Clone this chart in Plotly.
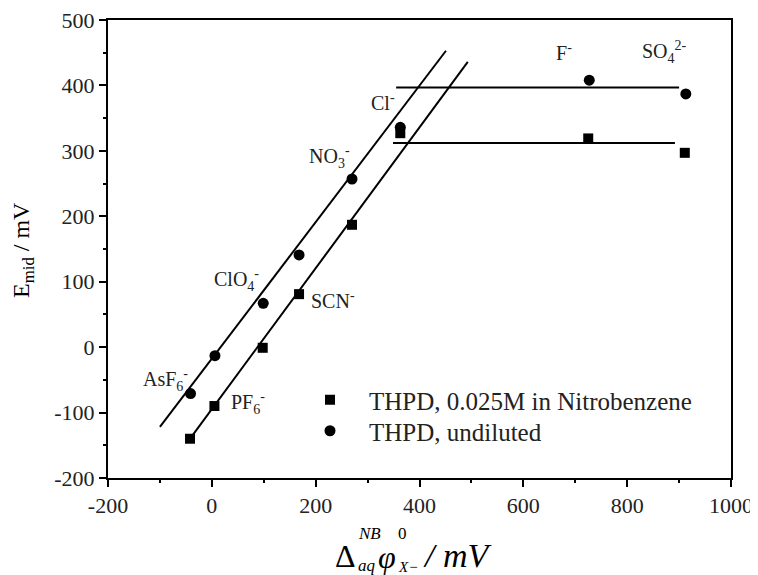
import plotly.graph_objects as go

# ---- data ----
nb_x = [-42, 5, 98, 168, 270, 363, 725, 911]
nb_y = [-140, -90, -1, 81, 187, 327, 319, 297]
und_x = [-41, 6, 99, 168, 270, 363, 727, 913]
und_y = [-71, -13, 67, 141, 257, 336, 408, 387]

fit_und_x = [-100, 451]
fit_und_y = [-122, 453]
fit_nb_x = [-44, 493]
fit_nb_y = [-142, 436]
plat_und_x = [355, 900]
plat_und_y = [397, 397]
plat_nb_x = [349, 892]
plat_nb_y = [312, 312]

ion_labels = ["AsF<sub>6</sub><sup>-</sup>", "PF<sub>6</sub><sup>-</sup>", "ClO<sub>4</sub><sup>-</sup>",
              "SCN<sup>-</sup>", "NO<sub>3</sub><sup>-</sup>", "Cl<sup>-</sup>", "F<sup>-</sup>",
              "SO<sub>4</sub><sup>2-</sup>"]
ion_x = [-136, 34, 1, 187, 184, 303, 659, 824]
ion_y = [-50, -86, 102, 72, 290, 375, 451, 451]

x_ticks = [-200, 0, 200, 400, 600, 800, 1000]
y_ticks = [-200, -100, 0, 100, 200, 300, 400, 500]
x_range = [-200, 1000]
y_range = [-200, 500]

legend_names = ["THPD, 0.025M in Nitrobenzene", "THPD, undiluted"]

FONT = "Liberation Serif"
OFF = 8  # page body margin offset
W, H = 758 - OFF, 575 - OFF
L, R, T, B = 108 - OFF, 27, 20 - OFF, 97
PW, PH = W - L - R, H - T - B

fig = go.Figure()
line_style = dict(color="black", width=2)
# sloped fit lines on overlay axes carrying the minor ticks
for xs, ys in [(fit_und_x, fit_und_y), (fit_nb_x, fit_nb_y)]:
    fig.add_trace(go.Scatter(x=xs, y=ys, mode="lines", line=line_style,
                             xaxis="x2", yaxis="y2",
                             showlegend=False, hoverinfo="skip"))
# plateau lines on overlay axes that draw the top/right frame
for xs, ys in [(plat_und_x, plat_und_y), (plat_nb_x, plat_nb_y)]:
    fig.add_trace(go.Scatter(x=xs, y=ys, mode="lines", line=line_style,
                             xaxis="x3", yaxis="y3",
                             showlegend=False, hoverinfo="skip"))

fig.add_trace(go.Scatter(x=nb_x, y=nb_y, mode="markers", name=legend_names[0],
                         legend="legend",
                         marker=dict(symbol="square", size=10, color="black")))
fig.add_trace(go.Scatter(x=und_x, y=und_y, mode="markers", name=legend_names[1],
                         legend="legend2",
                         marker=dict(symbol="circle", size=11, color="black")))

for t, x, y in zip(ion_labels, ion_x, ion_y):
    fig.add_annotation(x=x, y=y, text=t, showarrow=False, xanchor="left",
                       yanchor="middle", font=dict(family=FONT, size=20, color="#222"))


def px(xp):
    return (xp - OFF - L) / PW


def py(yp):
    return (OFF + H - B - yp) / PH


# x-axis title built from pieces (stacked sub/superscripts)
pieces = [
    ("Δ", 333, 556, 32, False),
    ("NB", 356, 533, 17, True),
    ("aq", 356, 565, 17, True),
    ("φ", 376, 557, 32, True),
    ("0", 396, 533, 17, False),
    ("X−", 396, 567, 15, True),
    ("/ mV", 421, 555, 34, True),
]
for txt, xp, yp, sz, it in pieces:
    fig.add_annotation(xref="paper", yref="paper", x=px(xp), y=py(yp),
                       text=f"<i>{txt}</i>" if it else txt, showarrow=False,
                       xanchor="left", yanchor="middle",
                       font=dict(family=FONT, size=sz, color="black"))

# y-axis title
fig.add_annotation(xref="paper", yref="paper", x=px(23), y=py(250),
                   text="E<sub>mid</sub> / mV", showarrow=False, textangle=-90,
                   xanchor="center", yanchor="middle",
                   font=dict(family=FONT, size=24, color="black"))

axis_common = dict(showgrid=False, zeroline=False, showline=True, linecolor="black",
                   linewidth=2, mirror=True, ticks="outside", ticklen=7, tickwidth=2,
                   tickcolor="black", automargin=False, ticklabeloverflow="allow",
                   tickfont=dict(family=FONT, size=22, color="#222"))
minor_common = dict(showgrid=False, zeroline=False, showline=False, ticks="outside",
                    ticklen=4, tickwidth=2, tickcolor="black", showticklabels=False,
                    automargin=False, tick0=0)
frame_common = dict(showgrid=False, zeroline=False, showline=True, linecolor="black",
                    linewidth=2, ticks="", showticklabels=False, automargin=False)

fig.update_layout(
    width=W, height=H,
    margin=dict(l=L, r=R, t=T, b=B, autoexpand=False),
    paper_bgcolor="white", plot_bgcolor="white",
    font=dict(family=FONT, color="black"),
    xaxis=dict(range=x_range, tickmode="array", tickvals=x_ticks,
               ticktext=[str(v) for v in x_ticks], **axis_common),
    yaxis=dict(range=y_range, tickmode="array", tickvals=y_ticks,
               ticktext=[str(v) for v in y_ticks], **axis_common),
    xaxis2=dict(range=x_range, overlaying="x", side="bottom", anchor="y2",
                dtick=100, **minor_common),
    yaxis2=dict(range=y_range, overlaying="y", side="left", anchor="x2",
                dtick=50, **minor_common),
    xaxis3=dict(range=x_range, overlaying="x", side="top", anchor="y3", **frame_common),
    yaxis3=dict(range=y_range, overlaying="y", side="right", anchor="x3", **frame_common),
    legend=dict(x=px(291), y=py(400), xanchor="left", yanchor="middle",
                bgcolor="rgba(0,0,0,0)", itemwidth=68,
                font=dict(family=FONT, size=25, color="#222")),
    legend2=dict(x=px(291), y=py(431), xanchor="left", yanchor="middle",
                 bgcolor="rgba(0,0,0,0)", itemwidth=68,
                 font=dict(family=FONT, size=25, color="#222")),
)

fig.write_html("out.html")
